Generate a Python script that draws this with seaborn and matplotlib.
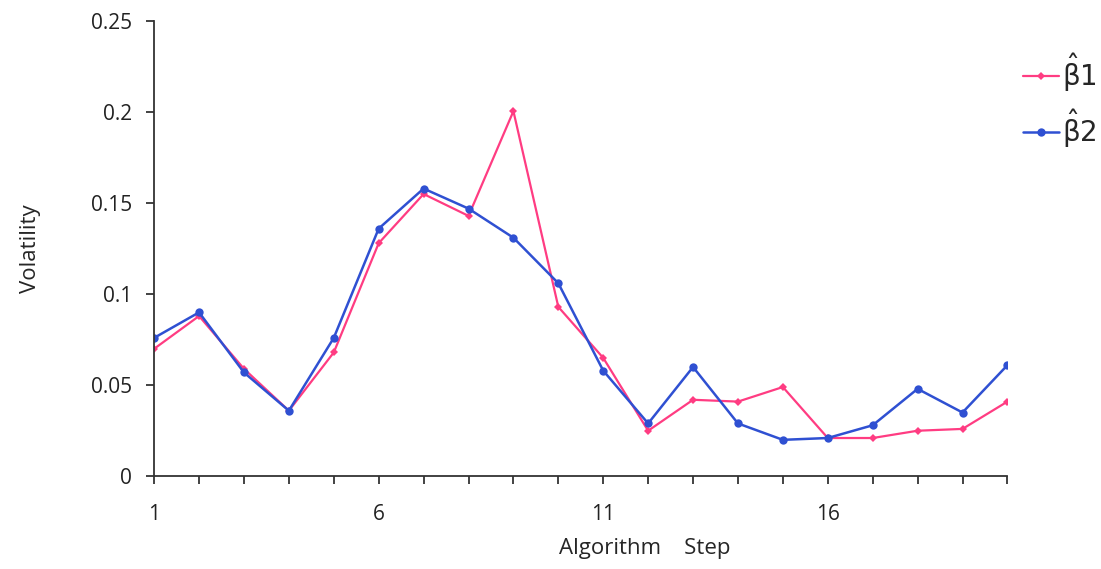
import pandas as pd
import matplotlib.pyplot as plt
import seaborn as sns

steps = list(range(1, 21))
beta1 = [0.070, 0.088, 0.059, 0.036, 0.068, 0.128, 0.155, 0.143, 0.2005, 0.093,
         0.065, 0.025, 0.042, 0.041, 0.049, 0.021, 0.021, 0.025, 0.026, 0.041]
beta2 = [0.076, 0.090, 0.057, 0.036, 0.076, 0.136, 0.158, 0.147, 0.131, 0.106,
         0.058, 0.029, 0.060, 0.029, 0.020, 0.021, 0.028, 0.048, 0.035, 0.061]
xtick_labels = [1, 6, 11, 16]

df = pd.DataFrame({'step': steps, 'b1': beta1, 'b2': beta2})

sns.set_style('white')
plt.rcParams['font.family'] = ['Open Sans', 'DejaVu Sans']
plt.rcParams['mathtext.fontset'] = 'dejavusans'

fig = plt.figure(figsize=(11.01, 5.69), dpi=100)
ax = fig.add_axes([0.14, 0.163, 0.775, 0.8])

sns.lineplot(data=df, x='step', y='b1', ax=ax, color='#FF3C82', marker='D',
             markersize=4, markeredgewidth=0, linewidth=1.6,
             label=r'$\hat{\mathrm{\beta}}\mathrm{1}$')
sns.lineplot(data=df, x='step', y='b2', ax=ax, color='#2F50D2', marker='o',
             markersize=6, markeredgewidth=0, linewidth=1.8,
             label=r'$\hat{\mathrm{\beta}}\mathrm{2}$')

ax.set_xlim(1, 20)
ax.set_ylim(0, 0.25)
ax.set_xticks(steps)
ax.set_xticklabels([str(s) if s in xtick_labels else '' for s in steps])
ax.set_yticks([0, 0.05, 0.1, 0.15, 0.2, 0.25])
ax.set_yticklabels(['0', '0.05', '0.1', '0.15', '0.2', '0.25'])
ax.tick_params(axis='both', labelsize=15, colors='#222222', length=6, width=1.2,
               direction='out', left=True, bottom=True)
ax.tick_params(axis='x', pad=14)
ax.tick_params(axis='y', pad=10)
for side in ['top', 'right']:
    ax.spines[side].set_visible(False)
for side in ['left', 'bottom']:
    ax.spines[side].set_color('#333333')
    ax.spines[side].set_linewidth(1.3)

ax.set_xlabel('Algorithm    Step', fontsize=16)
ax.xaxis.set_label_coords(0.575, -0.135)
ax.set_ylabel('Volatility', fontsize=16, labelpad=36)
ax.grid(False)

ax.legend(loc='upper left', bbox_to_anchor=(0.929, 0.91), bbox_transform=fig.transFigure,
          frameon=False, fontsize=20, handlelength=1.3, handletextpad=0.1,
          labelspacing=0.45, borderaxespad=0, borderpad=0)

fig.savefig('out.png', dpi=100)
